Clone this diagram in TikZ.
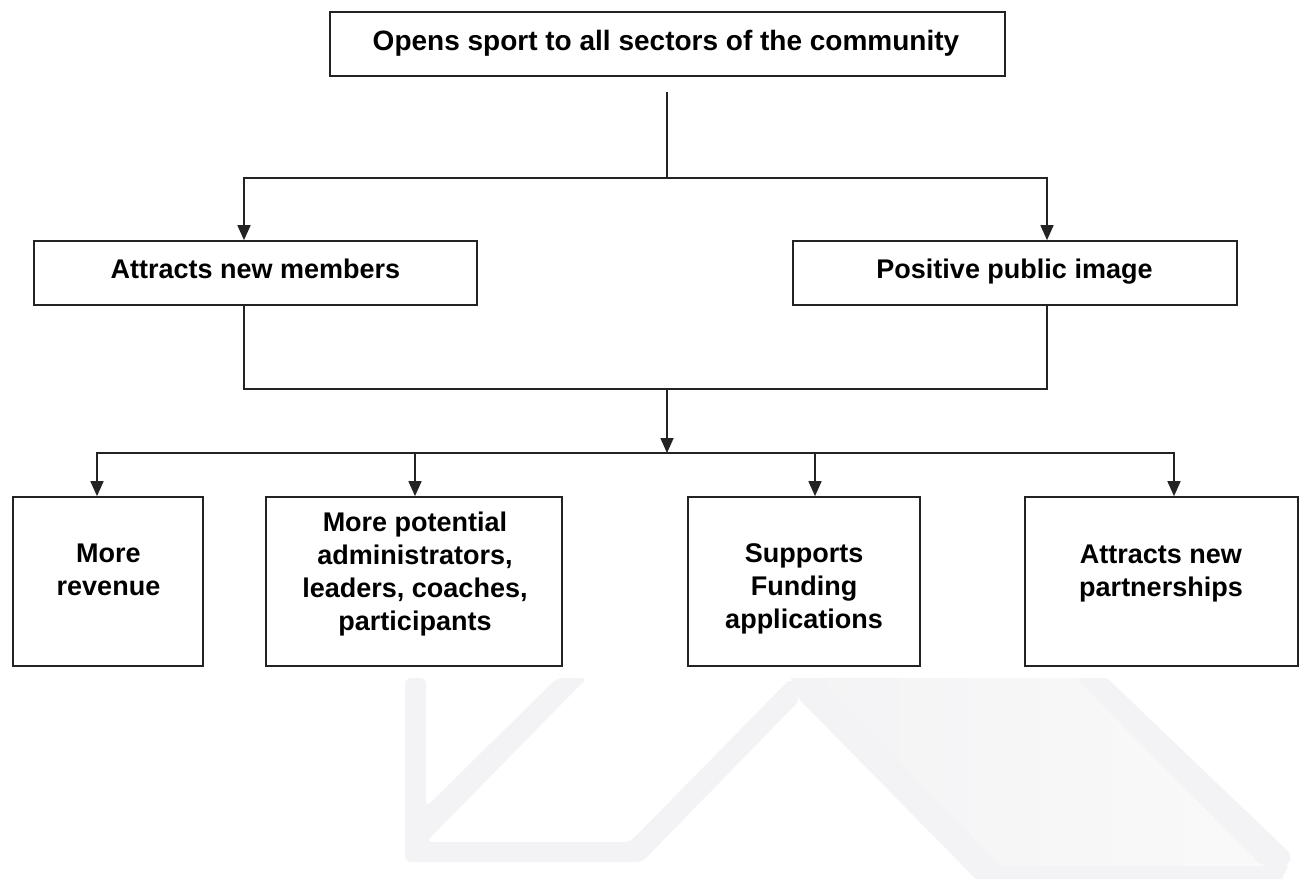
\documentclass[tikz,border=0pt]{standalone}
\usepackage{fontspec}
\setmainfont{Liberation Sans}
\usetikzlibrary{arrows.meta}
\definecolor{lncol}{RGB}{35,35,35}
\definecolor{wm}{RGB}{243,243,245}
\definecolor{wml}{RGB}{250,250,250}
\begin{document}
\begin{tikzpicture}[x=1pt,y=-1pt,
  box/.style={draw=lncol, line width=1.7pt, rectangle, inner sep=0pt},
  txt/.style={font=\fontsize{27}{33}\selectfont\bfseries, align=center, inner sep=0pt},
  toptxt/.style={font=\fontsize{28}{33}\selectfont\bfseries, inner sep=0pt},
  conn/.style={draw=lncol, line width=1.6pt},
  arr/.style={conn, -{Triangle[length=15pt,width=13pt]}}
]
\useasboundingbox (0,0) rectangle (1307,879);
\fill[white] (0,0) rectangle (1307,879);
% faint watermark
\fill[wm, rounded corners=6pt] (405,678) -- (426,678) -- (426,807) -- (557,678) -- (587,678) -- (426,842) -- (630,842) -- (791,678) -- (800,700) -- (642,862) -- (405,862) -- cycle;
\shade[left color=wm, right color=wml] (791,678) -- (1107,678) -- (1290,858) -- (1282,879) -- (976,879) -- (800,700) -- cycle;
\fill[wm] (791,678) -- (820,678) -- (1000,866) -- (994,879) -- (976,879) -- (800,700) -- cycle;
\fill[wm, rounded corners=6pt] (1076,678) -- (1107,678) -- (1292,855) -- (1288,866) -- (1262,866) -- cycle;
\fill[wm] (994,866) -- (1288,866) -- (1282,879) -- (994,879) -- cycle;

% boxes
\node[box, minimum width=675pt, minimum height=64pt] (top) at (667.5,44) {};
\node[toptxt, anchor=base] (toptext) at (666,50) {Opens sport to all sectors of the community};

\node[box, minimum width=443pt, minimum height=64pt] (attract) at (255.5,273) {};
\node[txt, anchor=base] (attracttext) at (255.5,278) {Attracts new members};

\node[box, minimum width=444pt, minimum height=64pt] (positive) at (1015,273) {};
\node[txt, anchor=base] (positivetext) at (1014.5,278) {Positive public image};

\node[box, minimum width=190pt, minimum height=169pt] (b1) at (108,581.5) {};
\node[txt] (b1text) at (108.5,570) {More\\revenue};

\node[box, minimum width=296pt, minimum height=169pt] (b2) at (414,581.5) {};
\node[txt] (b2text) at (415,574) {More potential\\administrators,\\leaders, coaches,\\participants};

\node[box, minimum width=232pt, minimum height=169pt] (b3) at (804,581.5) {};
\node[txt] (b3text) at (804,589) {Supports\\Funding\\applications};

\node[box, minimum width=273pt, minimum height=169pt] (b4) at (1161.5,581.5) {};
\node[txt] (b4text) at (1161,574) {Attracts new\\partnerships};

% connectors
\coordinate (t0) at (667,92);
\coordinate (t1) at (667,178);
\coordinate (m1) at (667,389);
\coordinate (m2) at (667,453);
\draw[conn] (t0) -- (t1);
\draw[arr] (t1) -| ([xshift=-11.5pt]attract.north);
\draw[arr] (t1) -| ([xshift=32pt]positive.north);
\draw[conn] ([xshift=-11.5pt]attract.south) |- (m1) -| ([xshift=32pt]positive.south);
\draw[arr] (m1) -- (m2);
\draw[arr] (m2) -| ([xshift=-11pt]b1.north);
\draw[arr] (m2) -| ([xshift=1pt]b2.north);
\draw[arr] (m2) -| ([xshift=11pt]b3.north);
\draw[arr] (m2) -| ([xshift=12.5pt]b4.north);
\end{tikzpicture}
\end{document}
